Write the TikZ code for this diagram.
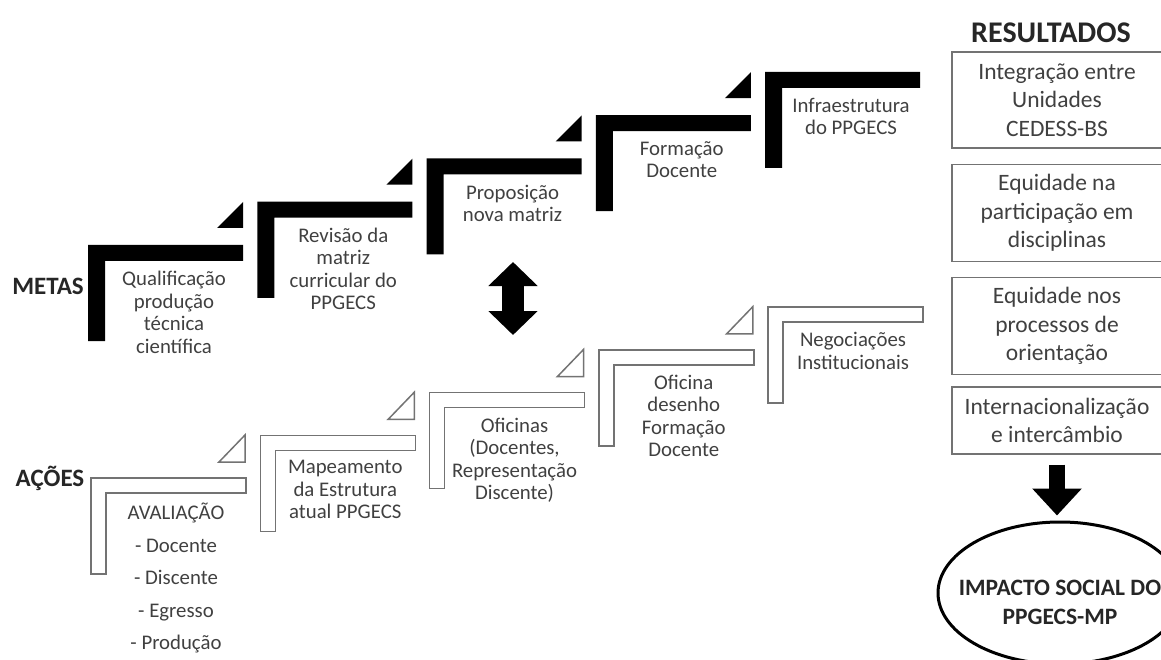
\documentclass[tikz,border=0pt]{standalone}
\usepackage{fontspec}
\setmainfont{Carlito}
\usepackage{tikz}
\usetikzlibrary{arrows.meta,calc,positioning,shapes.geometric}
\colorlet{txt}{black!75}
\colorlet{edge}{black!55}

\begin{document}
\begin{tikzpicture}[x=1pt,y=-1pt,
  steptext/.style={anchor=north,align=center,inner sep=0pt,text=txt,font=\fontsize{20.8}{22.5}\selectfont},
  acao/.style={draw=edge,line width=1.5pt,fill=white},
  resbox/.style={draw=edge,line width=1.3pt,minimum width=210pt,align=center,text=txt,font=\fontsize{23.5}{28.5}\selectfont},
  rowlabel/.style={font=\bfseries\fontsize{25}{28}\selectfont,text=black!85},
  bigarrow/.style={line width=16pt,-{Triangle[length=27pt,width=48pt]}}]
  \useasboundingbox (0,0) rectangle (1161,660);
  % metas: black steps
  \foreach \i/\t in {0/{Qualificação\\produção\\técnica\\científica}, 1/{Revisão da\\matriz\\curricular do\\PPGECS}, 2/{Proposição\\nova matriz}, 3/{Formação\\Docente}, 4/{Infraestrutura\\do PPGECS}} {
    \pgfmathsetmacro\x{88+169.25*\i} \pgfmathsetmacro\y{245-43.25*\i}
    \fill (\x,\y) -- ++(155,0) -- ++(0,16) -- ++(-138,0) -- ++(0,80) -- ++(-17,0) -- cycle;
    \ifnum\i<4 \fill (\x+129,\y-17) -- ++(26,0) -- ++(0,-26) -- cycle; \fi
    \node[steptext] (m\i) at (\x+86,\y+26) {\t};
  }
  % acoes: outlined steps
  \foreach \i/\t in {0/{AVALIAÇÃO\\[10pt]- Docente\\[10pt]- Discente\\[10pt]- Egresso\\[10pt]- Produção}, 1/{Mapeamento\\da Estrutura\\atual PPGECS}, 2/{Oficinas\\(Docentes,\\Representação\\Discente)}, 3/{Oficina\\desenho\\Formação\\Docente}, 4/{Negociações\\Institucionais}} {
    \pgfmathsetmacro\x{91+169.25*\i} \pgfmathsetmacro\y{478-42.75*\i}
    \draw[acao] (\x,\y) -- ++(155,0) -- ++(0,15) -- ++(-140,0) -- ++(0,81) -- ++(-15,0) -- cycle;
    \ifnum\i<4 \draw[acao] (\x+128,\y-16) -- ++(26,0) -- ++(0,-27) -- cycle; \fi
    \node[steptext] (a\i) at (\x+85,\y+25) {\t};
  }
  \node[rowlabel] (metas) at (48,286) {METAS};
  \node[rowlabel] (acoes) at (50,478) {AÇÕES};
  \coordinate (up) at (513,262);
  \coordinate (dn) at (513,335);
  \draw[line width=22pt,{Triangle[length=24pt,width=48pt]}-{Triangle[length=24pt,width=48pt]}] (up) -- (dn);
  % resultados
  \node[rowlabel,font=\bfseries\fontsize{30}{34}\selectfont] (res) at (1051,33) {RESULTADOS};
  \node[resbox,minimum height=96pt] (r1) at (1057,100) {Integração entre\\Unidades\\CEDESS-BS};
  \node[resbox,minimum height=97pt,below=15pt of r1] (r2) {Equidade na\\participação em\\disciplinas};
  \node[resbox,minimum height=97pt,below=15pt of r2] (r3) {Equidade nos\\processos de\\orientação};
  \node[resbox,minimum height=67pt,below=11pt of r3] (r4) {Internacionalização\\e intercâmbio};
  \node[draw,line width=3pt,ellipse,minimum width=244pt,minimum height=142pt,
    label={[yshift=-9.5pt,align=center,font=\bfseries\fontsize{23.5}{29}\selectfont,text=black!85]center:IMPACTO SOCIAL DO\\PPGECS-MP}] (ell) at (1060,593) {};
  \coordinate (tip) at ([yshift=5pt]ell.north);
  \draw[bigarrow] ([yshift=-10pt]r4.south) -- (r4.south |- tip);
\end{tikzpicture}
\end{document}
